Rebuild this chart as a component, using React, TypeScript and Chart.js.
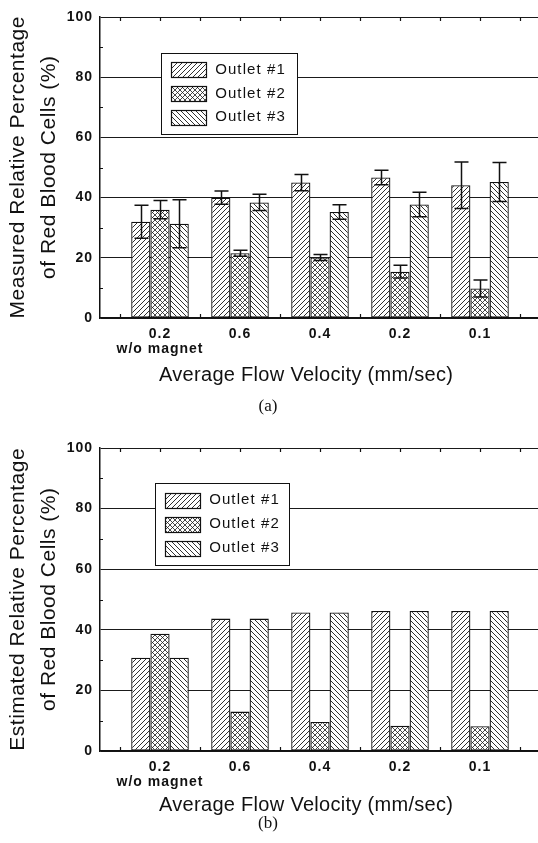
import React, { useEffect, useRef } from 'react';
import { Chart, registerables } from 'chart.js';

Chart.register(...registerables);

// ---------------- data ----------------
const categories = ['0.2', '0.6', '0.4', '0.2', '0.1'];
const firstCategoryNote = 'w/o magnet';
const seriesNames = ['Outlet #1', 'Outlet #2', 'Outlet #3'];
const yTickValues = [0, 20, 40, 60, 80, 100];
const yMinorTickValues = [10, 30, 50, 70, 90];

// (a) measured
const measuredOutlet1 = [32, 40, 45, 46.7, 44.1];
const measuredOutlet2 = [36, 21.5, 20.1, 15.4, 9.8];
const measuredOutlet3 = [31.3, 38.4, 35.2, 37.7, 45.2];
const measuredError1 = [5.5, 2.2, 2.7, 2.4, 7.7];
const measuredError2 = [3, 1, 1, 2.1, 2.8];
const measuredError3 = [8, 2.7, 2.4, 4.1, 6.5];

// (b) estimated
const estimatedOutlet1 = [30.8, 43.7, 45.7, 46.2, 46.2];
const estimatedOutlet2 = [38.7, 13.0, 9.6, 8.3, 8.2];
const estimatedOutlet3 = [30.8, 43.7, 45.7, 46.2, 46.2];

const measuredTitle = ['Measured Relative Percentage', 'of Red Blood Cells (%)'];
const estimatedTitle = ['Estimated Relative Percentage', 'of Red Blood Cells (%)'];
const xTitle = 'Average Flow Velocity (mm/sec)';

// ---------------- styling ----------------
const FONT = "'Liberation Sans', Arial, Helvetica, sans-serif";
const SERIF = "'Liberation Serif', 'Times New Roman', serif";
const INK = '#111';
const X_MIN = -0.75;
const X_MAX = 4.725;

function makePattern(ctx: CanvasRenderingContext2D, kind: string): CanvasPattern {
  const s = 5;
  const c = document.createElement('canvas');
  c.width = s;
  c.height = s;
  const g = c.getContext('2d')!;
  g.fillStyle = '#fff';
  g.fillRect(0, 0, s, s);
  g.strokeStyle = '#1a1a1a';
  g.lineWidth = kind === 'cross' ? 0.8 : 0.9;
  g.beginPath();
  for (const k of [-s, 0, s]) {
    if (kind === 'fwd' || kind === 'cross') {
      g.moveTo(k, s);
      g.lineTo(k + s, 0);
    }
    if (kind === 'back' || kind === 'cross') {
      g.moveTo(k, 0);
      g.lineTo(k + s, s);
    }
  }
  g.stroke();
  return ctx.createPattern(c, 'repeat')!;
}

function drawText(
  ctx: CanvasRenderingContext2D,
  text: string,
  x: number,
  y: number,
  font: string,
  spacing: number,
  rotate = false
) {
  ctx.save();
  ctx.font = font;
  (ctx as any).letterSpacing = spacing + 'px';
  ctx.fillStyle = INK;
  ctx.textAlign = 'center';
  ctx.textBaseline = 'middle';
  ctx.translate(x, y);
  if (rotate) ctx.rotate(-Math.PI / 2);
  ctx.fillText(text, spacing / 2, 0);
  ctx.restore();
}

type Spec = {
  values: number[][];
  errors: (number[] | null)[];
  yTitle: string[];
  caption: string;
  top: number;
  height: number;
  padTop: number;
  padBottom: number;
  legendBox: { x: number; y: number; w: number; h: number };
  xTitleY: number;
  captionY: number;
};

function Panel({ spec }: { spec: Spec }) {
  const ref = useRef<HTMLCanvasElement>(null);

  useEffect(() => {
    const canvas = ref.current!;
    const ctx = canvas.getContext('2d')!;
    const patterns = [makePattern(ctx, 'fwd'), makePattern(ctx, 'cross'), makePattern(ctx, 'back')];

    const spacingPlugin = {
      id: 'spacing',
      beforeUpdate(chart: any) {
        chart.ctx.letterSpacing = '1px';
      },
      beforeDraw(chart: any) {
        chart.ctx.letterSpacing = '1px';
        const c = chart.ctx;
        c.save();
        c.fillStyle = '#fff';
        c.fillRect(0, 0, chart.width, chart.height);
        c.restore();
      },
    };

    const tickPlugin = {
      id: 'innerTicks',
      afterDatasetsDraw(chart: any) {
        const c = chart.ctx;
        const xs = chart.scales.x;
        const ys = chart.scales.y;
        const a = chart.chartArea;
        c.save();
        c.strokeStyle = INK;
        c.lineWidth = 1.2;
        c.beginPath();
        for (const v of yMinorTickValues) {
          const py = Math.round(ys.getPixelForValue(v)) + 0.5;
          c.moveTo(a.left, py);
          c.lineTo(a.left + 3, py);
        }
        for (let i = 0; i <= categories.length; i++) {
          const px = Math.round(xs.getPixelForValue(i - 0.5)) + 0.5;
          c.moveTo(px, a.bottom);
          c.lineTo(px, a.bottom - 4);
        }
        for (let i = 0; i <= categories.length * 2; i++) {
          const v = i / 2 - 0.5;
          const px = Math.round(xs.getPixelForValue(v)) + 0.5;
          c.moveTo(px, a.top);
          c.lineTo(px, a.top + 4);
        }
        c.stroke();
        c.restore();
      },
    };

    const errorPlugin = {
      id: 'errorBars',
      afterDatasetsDraw(chart: any) {
        const c = chart.ctx;
        const ys = chart.scales.y;
        c.save();
        c.strokeStyle = INK;
        c.lineWidth = 1.5;
        spec.errors.forEach((errs, d) => {
          if (!errs) return;
          const meta = chart.getDatasetMeta(d);
          meta.data.forEach((el: any, i: number) => {
            const v = spec.values[d][i];
            const e = errs[i];
            const x = Math.round(el.x) + 0.5;
            const yHi = ys.getPixelForValue(v + e);
            const yLo = ys.getPixelForValue(v - e);
            c.beginPath();
            c.moveTo(x, yHi);
            c.lineTo(x, yLo);
            c.moveTo(x - 7, yHi);
            c.lineTo(x + 7, yHi);
            c.moveTo(x - 7, yLo);
            c.lineTo(x + 7, yLo);
            c.stroke();
          });
        });
        c.restore();
      },
    };

    const legendPlugin = {
      id: 'hatchLegend',
      afterDraw(chart: any) {
        const c = chart.ctx;
        const b = spec.legendBox;
        c.save();
        c.fillStyle = '#fff';
        c.fillRect(b.x, b.y, b.w, b.h);
        c.strokeStyle = INK;
        c.lineWidth = 1;
        c.strokeRect(b.x + 0.5, b.y + 0.5, b.w, b.h);
        c.restore();
        const rowH = (b.h - 10) / 3;
        seriesNames.forEach((name, d) => {
          const cy = b.y + 5 + rowH * (d + 0.5);
          const sw = 35;
          const sh = 15;
          const sx = b.x + 10;
          const sy = Math.round(cy - sh / 2);
          c.save();
          c.fillStyle = patterns[d];
          c.fillRect(sx, sy, sw, sh);
          c.strokeStyle = INK;
          c.lineWidth = 1.2;
          c.strokeRect(sx + 0.5, sy + 0.5, sw, sh);
          c.restore();
          drawText(c, name, b.x + 89, cy, `15px ${FONT}`, 1.1);
        });
      },
    };

    const titlePlugin = {
      id: 'titles',
      afterDraw(chart: any) {
        const c = chart.ctx;
        const a = chart.chartArea;
        const cy = (a.top + a.bottom) / 2;
        drawText(c, spec.yTitle[0], 18, cy, `21px ${FONT}`, 0.5, true);
        drawText(c, spec.yTitle[1], 49, cy, `21px ${FONT}`, 0.5, true);
        drawText(c, xTitle, 306, spec.xTitleY, `20px ${FONT}`, 0.3);
        drawText(c, spec.caption, 268, spec.captionY, `17px ${SERIF}`, 0);
      },
    };

    const chart = new Chart(canvas, {
      type: 'bar',
      data: {
        datasets: spec.values.map((vals, d) => ({
          label: seriesNames[d],
          data: vals.map((v, i) => ({ x: i, y: v })),
          backgroundColor: patterns[d],
          borderColor: INK,
          borderWidth: 1.3,
          borderSkipped: false,
          categoryPercentage: 0.72,
          barPercentage: 1,
        })),
      } as any,
      options: {
        animation: false,
        responsive: false,
        devicePixelRatio: 1,
        layout: { padding: { left: 0, right: 0, top: spec.padTop, bottom: spec.padBottom } },
        plugins: { legend: { display: false }, tooltip: { enabled: false } },
        scales: {
          x: {
            type: 'linear',
            min: X_MIN,
            max: X_MAX,
            offset: false,
            afterBuildTicks: (s: any) => {
              s.ticks = categories.map((_, i) => ({ value: i }));
            },
            afterFit: (s: any) => {
              s.height = 40;
            },
            ticks: {
              autoSkip: false,
              maxRotation: 0,
              padding: 9,
              color: INK,
              font: { family: FONT, size: 14, weight: 'bold', lineHeight: 1.05 },
              callback: (v: any) => {
                const i = Math.round(Number(v));
                return i === 0 ? [categories[0], firstCategoryNote] : categories[i];
              },
            },
            grid: { display: false, drawTicks: false },
            border: { display: true, color: INK, width: 1.5 },
          },
          y: {
            min: 0,
            max: 100,
            afterBuildTicks: (s: any) => {
              s.ticks = yTickValues.map((v) => ({ value: v }));
            },
            afterFit: (s: any) => {
              s.width = 100;
            },
            ticks: {
              padding: 7,
              color: INK,
              font: { family: FONT, size: 14, weight: 'bold' },
            },
            grid: { color: '#1a1a1a', lineWidth: 1, drawTicks: false },
            border: { display: true, color: INK, width: 1.5 },
          },
        },
      } as any,
      plugins: [spacingPlugin, tickPlugin, errorPlugin, legendPlugin, titlePlugin],
    });
    return () => chart.destroy();
  }, [spec]);

  return (
    <canvas
      ref={ref}
      width={538}
      height={spec.height}
      style={{ position: 'absolute', left: 0, top: spec.top, width: 538, height: spec.height }}
    />
  );
}

const specA: Spec = {
  values: [measuredOutlet1, measuredOutlet2, measuredOutlet3],
  errors: [measuredError1, measuredError2, measuredError3],
  yTitle: measuredTitle,
  caption: '(a)',
  top: 0,
  height: 425,
  padTop: 17,
  padBottom: 67,
  legendBox: { x: 161, y: 53, w: 136, h: 81 },
  xTitleY: 375,
  captionY: 407,
};

const specB: Spec = {
  values: [estimatedOutlet1, estimatedOutlet2, estimatedOutlet3],
  errors: [null, null, null],
  yTitle: estimatedTitle,
  caption: '(b)',
  top: 425,
  height: 418,
  padTop: 23,
  padBottom: 52,
  legendBox: { x: 155, y: 58, w: 134, h: 82 },
  xTitleY: 380,
  captionY: 399,
};

export default function App() {
  return (
    <div
      style={{
        position: 'absolute',
        left: 0,
        top: 0,
        width: 538,
        height: 843,
        background: '#fff',
        overflow: 'hidden',
      }}
    >
      <Panel spec={specA} />
      <Panel spec={specB} />
    </div>
  );
}
